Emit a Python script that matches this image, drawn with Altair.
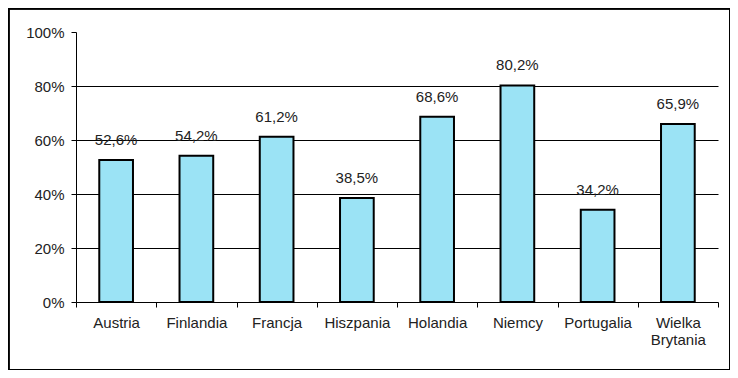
import altair as alt
import pandas as pd

countries = ["Austria", "Finlandia", "Francja", "Hiszpania", "Holandia",
             "Niemcy", "Portugalia", "Wielka Brytania"]
values = [52.6, 54.2, 61.2, 38.5, 68.6, 80.2, 34.2, 65.9]
labels = ["52,6%", "54,2%", "61,2%", "38,5%", "68,6%", "80,2%", "34,2%", "65,9%"]
y_ticks = [0, 0.2, 0.4, 0.6, 0.8, 1.0]

df = pd.DataFrame({"kraj": countries, "v": [v / 100 for v in values], "lab": labels})

FONT = "Liberation Sans"
TXT = "#222222"
FS = 15

x_enc = alt.X("kraj:N", sort=countries, title=None,
              scale=alt.Scale(paddingInner=0, paddingOuter=0),
              axis=alt.Axis(labelAngle=0, tickBand="extent", tickSize=5,
                            domainColor="black", tickColor="black",
                            labelFont=FONT, labelFontSize=FS, labelColor=TXT,
                            labelPadding=8, labelLineHeight=17,
                            labelExpr="split(datum.label, ' ')"))
y_enc = alt.Y("v:Q", title=None,
              scale=alt.Scale(domain=[0, 1], nice=False),
              axis=alt.Axis(values=y_ticks, format=".0%", tickSize=5,
                            domainColor="black", tickColor="black",
                            grid=True, gridColor="black",
                            gridOpacity={"condition": {"test": "datum.value >= 1 || datum.value <= 0", "value": 0}, "value": 1},
                            labelFont=FONT, labelFontSize=FS, labelColor=TXT,
                            labelPadding=7))

bars = alt.Chart(df).mark_bar(color="#9BE3F5", stroke="black", strokeWidth=2,
                              width=alt.RelativeBandSize(0.42)).encode(
    x=x_enc, y=y_enc)

text = alt.Chart(df).mark_text(font=FONT, fontSize=FS, color=TXT, baseline="bottom", dy=-12).encode(
    x=alt.X("kraj:N", sort=countries), y="v:Q", text="lab:N")

frame = alt.Chart(df).mark_rect(fill=None, stroke="black", strokeWidth=1.5).encode(
    x=alt.value(-67.5), x2=alt.value(654), y=alt.value(-23.5), y2=alt.value(338))

chart = alt.layer(bars, text, frame).properties(
    width=642, height=270,
    autosize=alt.AutoSizeParams(type="none"),
    padding={"left": 68, "top": 24, "right": 12, "bottom": 68},
    background="white",
).configure_view(stroke=None)

chart.save("out.html", embed_options={"renderer": "svg", "actions": False})
